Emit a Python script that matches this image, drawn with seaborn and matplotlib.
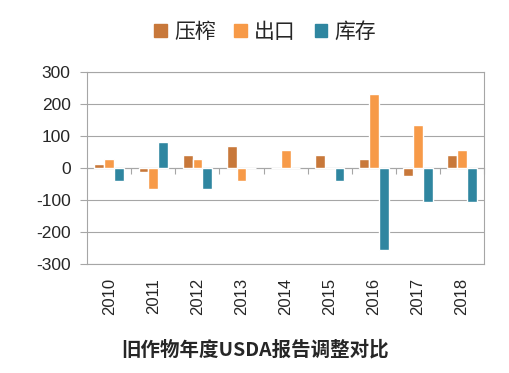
import seaborn as sns
import pandas as pd
from matplotlib import pyplot as plt
from matplotlib.patches import Patch

years = ['2010', '2011', '2012', '2013', '2014', '2015', '2016', '2017', '2018']
crush = [13, -12, 42, 69, 0, 40, 27, -26, 40]
export = [27, -67, 27, -40, 55, 0, 231, 135, 55]
stock = [-40, 82, -67, 0, 0, -40, -256, -107, -107]
series = ['压榨', '出口', '库存']
colors = ['#C8783A', '#F79A48', '#2F86A0']

df = pd.DataFrame({'year': years * 3,
                   'value': crush + export + stock,
                   'kind': [s for s in series for _ in years]})

plt.switch_backend('AGG')
sns.set_style('white')
plt.rcParams['font.family'] = ['Liberation Sans', 'Noto Sans CJK SC', 'DejaVu Sans']
plt.rcParams['axes.unicode_minus'] = False

fig = plt.figure(figsize=(5.1, 3.73), dpi=100)
ax = fig.add_axes([0.171, 0.292, 0.778, 0.515])
sns.barplot(data=df, x='year', y='value', hue='kind', palette=colors,
            width=0.67, gap=0, saturation=1, legend=False, ax=ax)

ax.set_ylim(-300, 300)
ax.set_yticks(range(-300, 301, 100))
ax.set_xlim(-0.5, len(years) - 0.5)
ax.yaxis.grid(True, color='#A6A6A6', linewidth=0.8)
ax.set_axisbelow(True)
for sp in ax.spines.values():
    sp.set_color('#A6A6A6')
    sp.set_linewidth(0.8)
ax.tick_params(axis='y', length=5, color='#A6A6A6', labelsize=12.5, direction='out',
               left=True, pad=7)
ax.tick_params(axis='x', length=0, labelsize=12, rotation=90, pad=10)
ax.set_xlabel('')
ax.set_ylabel('')

# zero line with category separators
sec = ax.secondary_xaxis(0.5)
sec.set_xticks([i + 0.5 for i in range(len(years) - 1)] + [len(years) - 0.5])
sec.set_xticklabels([])
sec.tick_params(length=4, color='#A6A6A6', direction='in')
for sp in sec.spines.values():
    sp.set_color('#A6A6A6')
    sp.set_linewidth(0.8)

handles = [Patch(color=c, label=s) for s, c in zip(series, colors)]
fig.legend(handles=handles, loc='center', bbox_to_anchor=(0.52, 0.915), ncol=3,
           frameon=False, handlelength=0.6, handleheight=0.6,
           handletextpad=0.35, columnspacing=0.9,
           prop={'family': ['Noto Sans CJK SC'], 'size': 15})

fig.text(0.5, 0.062, '旧作物年度USDA报告调整对比', ha='center', va='center',
         fontsize=14, fontweight='bold', family=['Noto Sans CJK SC'])

fig.savefig('out.png', dpi=100)
